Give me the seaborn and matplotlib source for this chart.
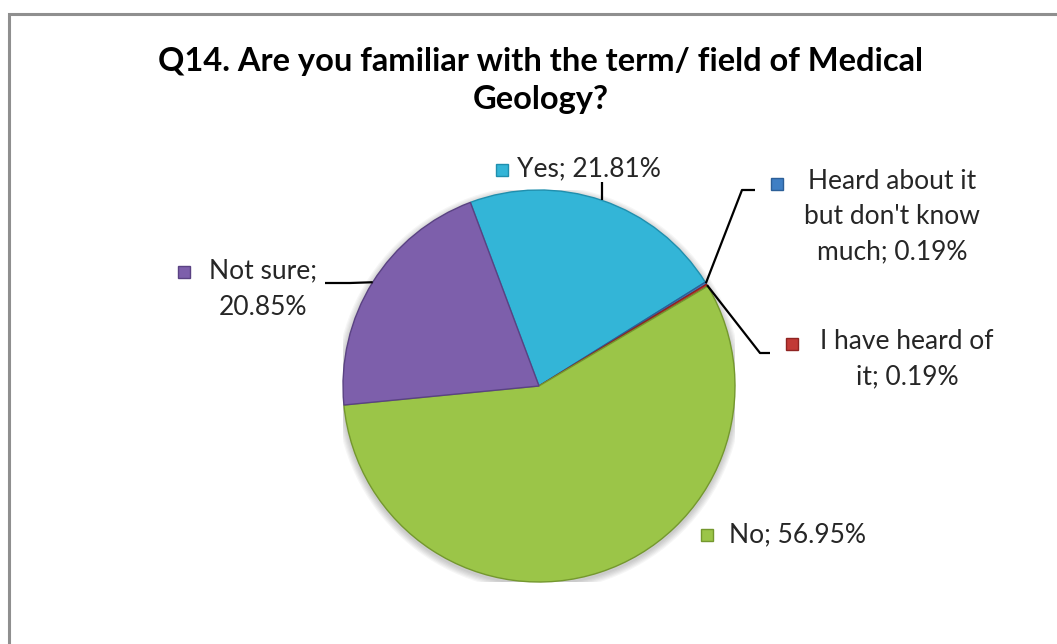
import matplotlib
matplotlib.use("Agg")
import numpy as np
import matplotlib.pyplot as plt
import seaborn as sns
from matplotlib.patches import Rectangle, Circle

# data
categories = ["Yes", "Heard about it but don't know much", "I have heard of it", "No", "Not sure"]
shares = [21.81, 0.19, 0.19, 56.95, 20.85]
label_texts = ["Yes; 21.81%",
               "Heard about it\nbut don't know\nmuch; 0.19%",
               "I have heard of\nit; 0.19%",
               "No; 56.95%",
               "Not sure;\n20.85%"]
title_lines = ["Q14. Are you familiar with the term/ field of Medical", "Geology?"]
colors = ["#33b5d7", "#3f7fc4", "#c23a36", "#9bc548", "#7d5fab"]
edge_colors = ["#1f8fae", "#2c5f98", "#8f2422", "#74982e", "#5a4283"]

sns.set_theme(style="white")
plt.rcParams['font.family'] = ['Lato', 'DejaVu Sans']

W, H = 1057, 644
fig = plt.figure(figsize=(W / 100, H / 100), dpi=100)
fig.patch.set_facecolor("white")

cx, cy, r = 539, 386, 196
ax = fig.add_axes([(cx - r) / W, (H - cy - r) / H, 2 * r / W, 2 * r / H])

# soft shadow under the pie
for k in range(6):
    ax.add_patch(Circle((0.0, -0.012), 1.0 + 0.006 * (k + 1), color="black",
                        alpha=0.035, lw=0, zorder=0))

wedges, _ = ax.pie(shares, colors=colors, startangle=110.5, counterclock=False,
                   radius=1, wedgeprops=dict(linewidth=1.0, zorder=2))
for w, ec in zip(wedges, edge_colors):
    w.set_edgecolor(ec)
ax.set_xlim(-1, 1)
ax.set_ylim(-1, 1)
ax.axis("off")


def P(px, py):
    return ((px - cx) / r, (cy - py) / r)


def edge_point(w):
    a = np.deg2rad((w.theta1 + w.theta2) / 2)
    return np.cos(a), np.sin(a)


fs = 19
tc = "#262626"
ls = 1.5
lkw = dict(color="black", lw=1.6, clip_on=False, solid_capstyle="butt", zorder=3)
mkw = dict(marker="s", markersize=8, clip_on=False, linestyle="none")

# Yes
ex, ey = edge_point(wedges[0])
ax.plot([ex, ex], [ey, P(0, 182)[1]], **lkw)
ax.plot(*P(502, 170), color=colors[0], markeredgecolor=edge_colors[0], **mkw)
ax.text(*P(517, 169), label_texts[0], fontsize=fs, color=tc, ha="left", va="center")

# Heard about it but don't know much
ex, ey = edge_point(wedges[1])
x1, y1 = P(742, 190)
x2, y2 = P(755, 190)
ax.plot([ex, x1, x2], [ey, y1, y2], **lkw)
ax.plot(*P(777, 184), color=colors[1], markeredgecolor=edge_colors[1], **mkw)
ax.text(*P(892, 169), label_texts[1], fontsize=fs, color=tc, ha="center", va="top",
        multialignment="center", linespacing=ls)

# I have heard of it
ex, ey = edge_point(wedges[2])
x1, y1 = P(760, 353)
x2, y2 = P(770, 353)
ax.plot([ex, x1, x2], [ey, y1, y2], **lkw)
ax.plot(*P(792, 344), color=colors[2], markeredgecolor=edge_colors[2], **mkw)
ax.text(*P(907, 329), label_texts[2], fontsize=fs, color=tc, ha="center", va="top",
        multialignment="center", linespacing=ls)

# No
ax.plot(*P(707, 535), color=colors[3], markeredgecolor=edge_colors[3], **mkw)
ax.text(*P(729, 535), label_texts[3], fontsize=fs, color=tc, ha="left", va="center")

# Not sure
ex, ey = edge_point(wedges[4])
x1, y1 = P(350, 283)
x2, y2 = P(325, 283)
ax.plot([ex, x1, x2], [ey, y1, y2], **lkw)
ax.plot(*P(184, 272), color=colors[4], markeredgecolor=edge_colors[4], **mkw)
ax.text(*P(263, 258), label_texts[4], fontsize=fs, color=tc, ha="center", va="top",
        multialignment="center", linespacing=1.6)

# title
for line, py in zip(title_lines, [62, 100]):
    fig.text(541 / W, 1 - py / H, line, fontsize=23.5, fontweight="bold",
             color="black", ha="center", va="center")

# chart area border (left and top edges visible)
fig.add_artist(Rectangle((8.5 / W, -0.1), 1.2, (H - 13.5) / H + 0.1,
                         transform=fig.transFigure, fill=False,
                         edgecolor="#8f8f8f", lw=2.2))

fig.savefig("out.png", dpi=100, facecolor="white")
